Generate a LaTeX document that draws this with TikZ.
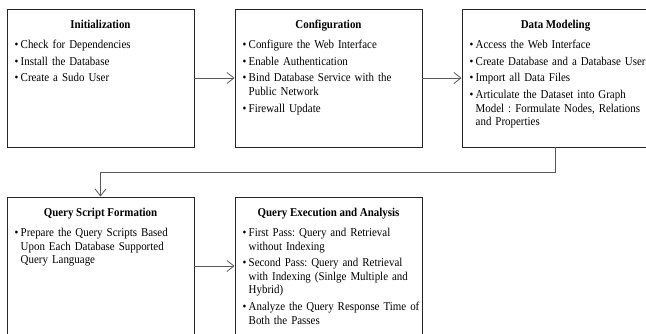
\documentclass[tikz,border=0pt]{standalone}
\usepackage{fontspec}
\setmainfont{Liberation Serif}[FakeStretch=0.91]
\usetikzlibrary{arrows.meta}

% one bullet item: the bullet, then a top-aligned block whose lines share one indent
\newcommand{\bitem}[1]{\par\noindent\makebox[6pt][l]{\textbullet}%
  \parbox[t]{174pt}{\raggedright\strut #1\strut}}

\tikzset{
  stage/.style={draw=black!85, line width=0.95pt, fill=white,
    minimum width=187pt, minimum height=138pt, inner sep=0pt},
  stagetitle/.style={font=\fontsize{12}{13.6}\selectfont\bfseries, anchor=base, inner sep=0pt},
  stagelist/.style={anchor=north west, inner sep=0pt, text width=180pt, align=left,
    font=\fontsize{12}{13.6}\selectfont,
    execute at begin node={\frenchspacing\setlength{\parindent}{0pt}%
      \setlength{\parskip}{3.1pt}\setlength{\lineskip}{0pt}}},
  flow/.style={draw=black!65, line width=0.8pt,
    -{Straight Barb[length=7pt,width=11pt,line width=0.8pt]}}
}

\begin{document}
\begin{tikzpicture}[x=1pt,y=-1pt]
\useasboundingbox (0,0) rectangle (646,334);
\clip (0,0) rectangle (646,334);

% stage boxes
\node[stage] (b1) at (100.5,78) {};
\node[stage] (b2) at (328.5,78) {};
\node[stage] (b3) at (555.5,78) {};
\node[stage] (b4) at (100.5,266) {};
\node[stage] (b5) at (328.5,266) {};

% titles
\node[stagetitle] (t1) at ([yshift=-20pt]b1.north) {Initialization};
\node[stagetitle] (t2) at ([yshift=-20pt]b2.north) {Configuration};
\node[stagetitle] (t3) at ([yshift=-20pt]b3.north) {Data Modeling};
\node[stagetitle] (t4) at ([yshift=-20pt]b4.north) {Query Script Formation};
\node[stagetitle] (t5) at ([yshift=-20pt]b5.north) {Query Execution and Analysis};

% task lists
\node[stagelist] (l1) at ([xshift=8pt,yshift=-23pt]b1.north west) {%
  \bitem{Check for Dependencies}
  \bitem{Install the Database}
  \bitem{Create a Sudo User}};
\node[stagelist] (l2) at ([xshift=8pt,yshift=-23pt]b2.north west) {%
  \bitem{Configure the Web Interface}
  \bitem{Enable Authentication}
  \bitem{Bind Database Service with the\\ Public Network}
  \bitem{Firewall Update}};
\node[stagelist] (l3) at ([xshift=8pt,yshift=-23pt]b3.north west) {%
  \bitem{Access the Web Interface}
  \bitem{Create Database and a Database User}
  \bitem{Import all Data Files}
  \bitem{Articulate the Dataset into Graph\\ Model : Formulate Nodes, Relations\\ and Properties}};
\node[stagelist] (l4) at ([xshift=8pt,yshift=-23pt]b4.north west) {%
  \bitem{Prepare the Query Scripts Based\\ Upon Each Database Supported\\ Query Language}};
\node[stagelist] (l5) at ([xshift=8pt,yshift=-23pt]b5.north west) {%
  \bitem{First Pass: Query and Retrieval\\ without Indexing}
  \bitem{Second Pass: Query and Retrieval\\ with Indexing (Sinlge Multiple and\\ Hybrid)}
  \bitem{Analyze the Query Response Time of\\ Both the Passes}};

% connectors
\draw[flow] (b1.east) -- (b2.west);
\draw[flow] (b2.east) -- (b3.west);
\draw[flow] (b3.south) -- ++(0,25) -| (b4.north);
\draw[flow] (b4.east) -- (b5.west);
\end{tikzpicture}
\end{document}
